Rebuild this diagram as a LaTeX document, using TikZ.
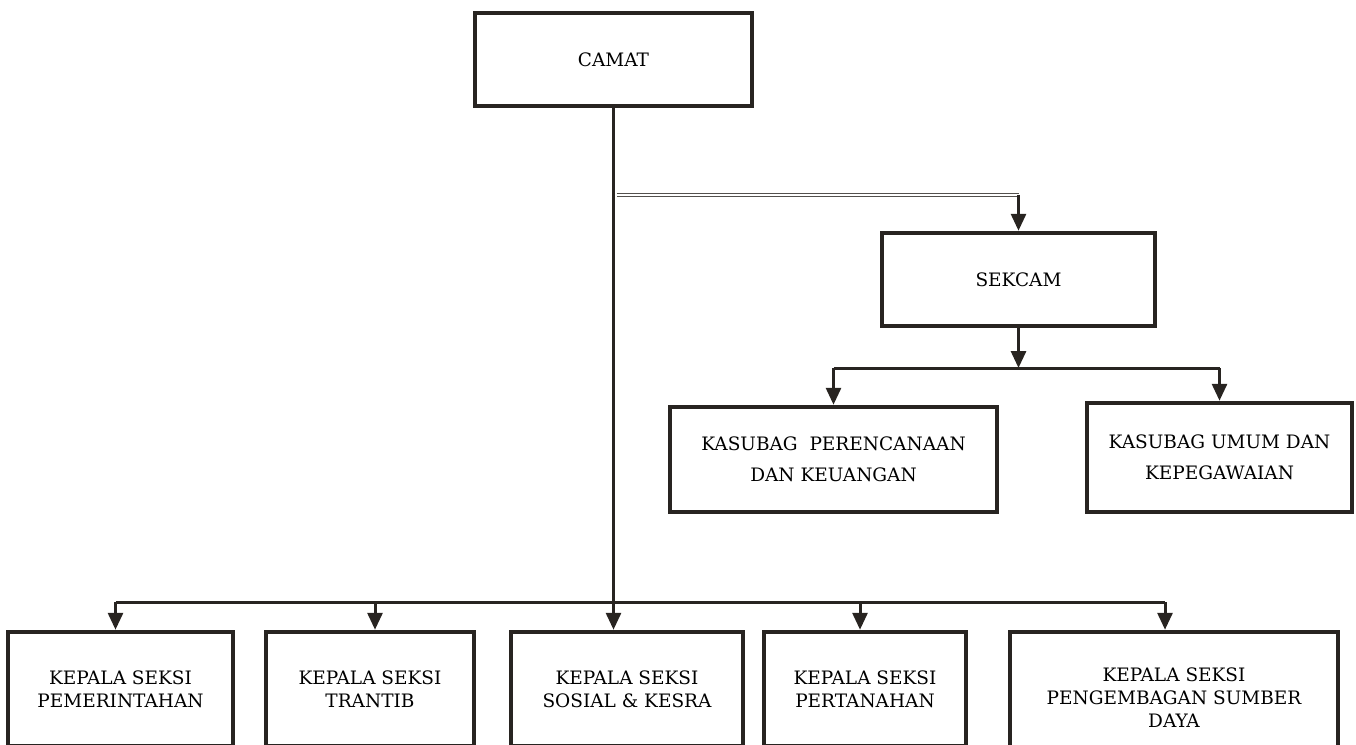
\documentclass[tikz,border=0pt]{standalone}
\usepackage{fontspec}
\setmainfont{DejaVu Serif}
\usetikzlibrary{arrows.meta}
\usetikzlibrary{positioning}
\definecolor{ink}{RGB}{40,36,33}

\begin{document}
\begin{tikzpicture}[x=1pt,y=-1pt,->,>={Triangle[length=17pt,width=15pt]},
    line width=3pt,draw=ink,
    box node/.style={rectangle,draw=ink,line width=4.5pt,align=center,inner sep=0pt,
      font=\fontsize{18.5}{23}\selectfont},
    sub node/.style={box node,font=\fontsize{18.5}{31}\selectfont},
    seksi node/.style={box node,minimum height=114pt}]

   \useasboundingbox (0,0) rectangle (1356,744);
   \clip (0,0) rectangle (1356,744);

   % pimpinan
   \node[box node,minimum width=277pt,minimum height=93pt] (camat) at (613.5,59.5) {CAMAT};
   \node[box node,minimum width=273pt,minimum height=93pt] (sekcam) at (1018.5,279.5) {SEKCAM};

   % sekretariat
   \node[sub node,minimum width=327pt,minimum height=105pt] (kasubag1) at (833.5,459.5) {KASUBAG\ \ PERENCANAAN\\DAN KEUANGAN};
   \node[sub node,minimum width=265pt,minimum height=109pt] (kasubag2) at (1219.5,457.5) {KASUBAG UMUM DAN\\KEPEGAWAIAN};

   % seksi
   \node[seksi node,minimum width=225pt] (seksi1) at (120.5,689) {KEPALA SEKSI\\PEMERINTAHAN};
   \node[seksi node,minimum width=208pt] (seksi2) at (370,689) {KEPALA SEKSI\\TRANTIB};
   \node[seksi node,minimum width=232pt] (seksi3) at (627,689) {KEPALA SEKSI\\SOSIAL \& KESRA};
   \node[seksi node,minimum width=202pt] (seksi4) at (865,689) {KEPALA SEKSI\\PERTANAHAN};
   \node[seksi node,minimum width=328pt,minimum height=132pt] (seksi5) at (1174,698) {KEPALA SEKSI\\PENGEMBAGAN SUMBER\\DAYA};

   \coordinate (dline) at (0,195);
   \coordinate (kbus) at (0,368);
   \coordinate (sbus) at (0,602);

   % garis komando
   \path (camat.south) edge (camat.south |- seksi3.north);
   \path[-] ([xshift=3pt]camat.south |- dline) edge[double=white,double distance=2pt,line width=1.3pt,draw=ink!80] (sekcam.north |- dline);
   \path (sekcam.north |- dline) edge (sekcam.north);

   \path (sekcam.south) edge (sekcam.south |- kbus);
   \path[-] (kasubag1.north |- kbus) edge (kasubag2.north |- kbus);
   \path (kasubag1.north |- kbus) edge (kasubag1.north);
   \path (kasubag2.north |- kbus) edge (kasubag2.north);

   \path[-] ([xshift=-5pt]seksi1.north |- sbus) edge ([xshift=-9pt]seksi5.north |- sbus);
   \path ([xshift=-5pt]seksi1.north |- sbus) edge ([xshift=-5pt]seksi1.north);
   \path ([xshift=5pt]seksi2.north |- sbus) edge ([xshift=5pt]seksi2.north);
   \path ([xshift=-5pt]seksi4.north |- sbus) edge ([xshift=-5pt]seksi4.north);
   \path ([xshift=-9pt]seksi5.north |- sbus) edge ([xshift=-9pt]seksi5.north);

\end{tikzpicture}
\end{document}
